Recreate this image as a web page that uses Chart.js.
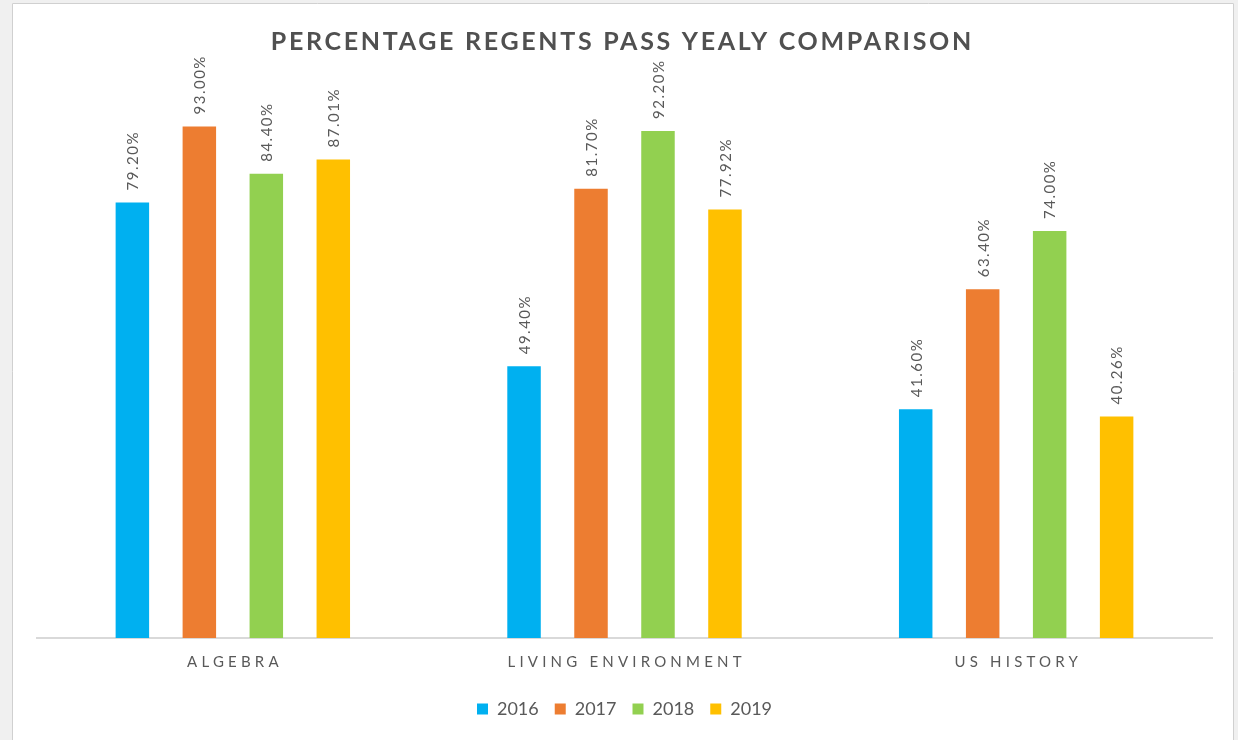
<!DOCTYPE html>
<html>
<head>
<meta charset="utf-8">
<script src="https://cdn.jsdelivr.net/npm/chart.js@4"></script>
<style>
  html, body { margin: 0; padding: 0; background: #f0f0f0; }
  #wrap { width: 1238px; height: 740px; }
</style>
</head>
<body>
<div id="wrap"><canvas id="chart" width="1238" height="740"></canvas></div>
<script>
const chartTitle = 'PERCENTAGE REGENTS PASS YEALY COMPARISON';
const subjects = ['ALGEBRA', 'LIVING ENVIRONMENT', 'US HISTORY'];
const years = ['2016', '2017', '2018', '2019'];
const pass2016 = [79.20, 49.40, 41.60];
const pass2017 = [93.00, 81.70, 63.40];
const pass2018 = [84.40, 92.20, 74.00];
const pass2019 = [87.01, 77.92, 40.26];
const yearColors = ['#00B0F0', '#ED7D31', '#92D050', '#FFC000'];

const textGray = '#595959';

// frame + title + spaced category labels + rotated value labels
const decor = {
    id: 'decor',
    beforeDraw(chart) {
        const ctx = chart.ctx;
        ctx.save();
        ctx.fillStyle = '#f0f0f0';
        ctx.fillRect(0, 0, chart.width, chart.height);
        ctx.fillStyle = '#ffffff';
        ctx.fillRect(12, 3, 1222, 740);
        ctx.strokeStyle = '#d0d0d0';
        ctx.lineWidth = 1;
        ctx.beginPath();
        ctx.moveTo(12.5, 740);
        ctx.lineTo(12.5, 3.5);
        ctx.lineTo(1233.5, 3.5);
        ctx.lineTo(1233.5, 740);
        ctx.stroke();
        ctx.restore();
    },
    afterDatasetsDraw(chart) {
        const ctx = chart.ctx;
        ctx.save();
        ctx.fillStyle = textGray;
        ctx.font = '15px Lato';
        ctx.letterSpacing = '1.5px';
        ctx.textAlign = 'left';
        ctx.textBaseline = 'middle';
        chart.data.datasets.forEach((ds, i) => {
            const meta = chart.getDatasetMeta(i);
            meta.data.forEach((bar, j) => {
                ctx.save();
                ctx.translate(bar.x + 1, bar.y - 12);
                ctx.rotate(-Math.PI / 2);
                ctx.fillText(ds.data[j].toFixed(2) + '%', 0, 0);
                ctx.restore();
            });
        });
        ctx.restore();
    },
    afterDraw(chart) {
        const ctx = chart.ctx;
        const xs = chart.scales.x;
        ctx.save();
        ctx.fillStyle = textGray;
        ctx.textBaseline = 'middle';
        ctx.textAlign = 'left';

        ctx.font = 'bold 25px Lato';
        ctx.letterSpacing = '2.7px';
        let w = ctx.measureText(chartTitle).width - 2.7;
        ctx.fillStyle = '#505050';
        ctx.fillText(chartTitle, chart.width / 2 - w / 2 + 2, 42);

        ctx.fillStyle = textGray;
        ctx.font = '15px Lato';
        ctx.letterSpacing = '4.2px';
        subjects.forEach((s, i) => {
            const x = xs.getPixelForValue(i);
            const tw = ctx.measureText(s).width - 4.2;
            ctx.fillText(s, x - tw / 2, xs.top + 24);
        });
        ctx.restore();
    }
};

const pass = [pass2016, pass2017, pass2018, pass2019];

new Chart(document.getElementById('chart'), {
    type: 'bar',
    data: {
        labels: subjects,
        datasets: years.map((y, i) => ({
            label: y,
            data: pass[i],
            backgroundColor: yearColors[i],
            borderWidth: 0,
            categoryPercentage: 0.684,
            barPercentage: 0.5
        }))
    },
    options: {
        responsive: false,
        animation: false,
        devicePixelRatio: 1,
        layout: { padding: { left: 37, right: 26, top: 88, bottom: 12 } },
        plugins: {
            title: { display: false },
            tooltip: { enabled: false },
            legend: {
                position: 'bottom',
                labels: {
                    color: textGray,
                    font: { family: 'Lato', size: 18 },
                    boxWidth: 11,
                    boxHeight: 11,
                    padding: 16
                }
            }
        },
        scales: {
            x: {
                grid: { display: false },
                border: { display: true, color: '#d9d9d9', width: 2 },
                ticks: { display: false },
                afterFit(scale) { scale.height = 46; }
            },
            y: {
                display: false,
                min: 0,
                max: 100
            }
        }
    },
    plugins: [decor]
});
</script>
</body>
</html>
